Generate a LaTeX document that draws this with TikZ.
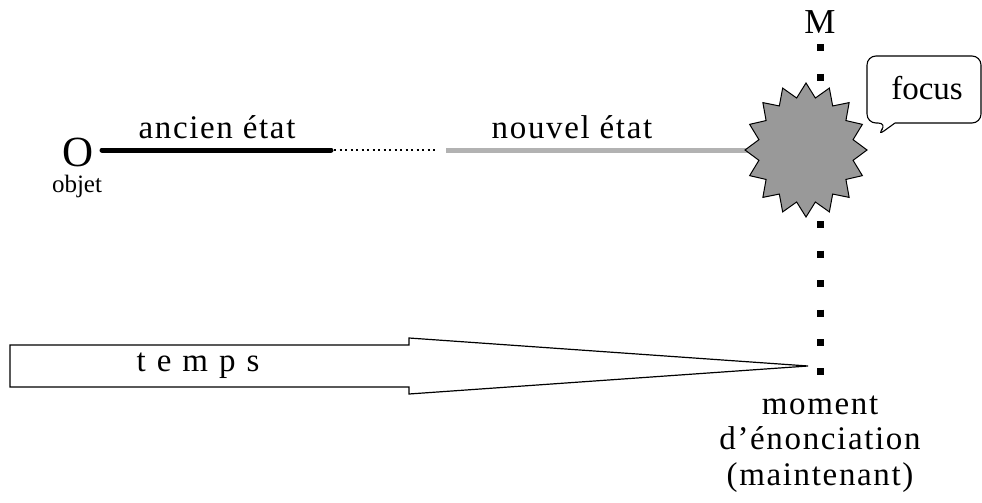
\documentclass[tikz,border=0pt]{standalone}
\usetikzlibrary{calc}
\usepackage{fontspec}
\setmainfont{Liberation Serif}
\newfontfamily\spacedfont[LetterSpace=5]{Liberation Serif}
\begin{document}
\begin{tikzpicture}[x=1pt,y=-1pt,
  txt/.style={inner sep=0pt,font=\fontsize{33}{36}\selectfont},
  spacedtxt/.style={inner sep=0pt,font=\spacedfont\fontsize{33}{35.5}\selectfont},
  oldline/.style={line width=5pt,line cap=round,black},
  newline/.style={line width=5pt,black!30},
  gapline/.style={line width=1.6pt,dash pattern=on 2pt off 3.5pt},
  nowline/.style={line width=7pt,dash pattern=on 7pt off 22.45pt},
  startex/.style={fill=black!40,draw=black,line width=1pt,line join=miter},
  bubble/.style={draw=black,line width=1.1pt,fill=white,rounded corners=9pt},
  timearrow/.style={draw=black,line width=1.2pt,fill=white,line join=miter}]
\useasboundingbox (0,0) rectangle (982,503);
% vertical "now" line
\coordinate (mtop) at (820,44.5);
\coordinate (mbot) at (820,376);
\draw[nowline] (mtop) -- (mbot);
\node[inner sep=0pt,font=\fontsize{35}{35}\selectfont] (M) at (820,22) {M};
% object line
\node[inner sep=0pt,anchor=base,text height=29pt,text depth=0pt,
  font=\fontsize{43}{43}\selectfont] (O) at (78,166) {O};
\node[inner sep=0pt,anchor=base,text height=16pt,text depth=5pt,
  font=\fontsize{25}{25}\selectfont] (objet) at (77,192) {objet};
\coordinate (a1) at (102,150);
\coordinate (a2) at (331,150);
\coordinate (g1) at (334,150);
\coordinate (g2) at (438,150);
\coordinate (n1) at (446,150);
\coordinate (star) at (806,150);
\draw[oldline] (a1) -- (a2);
\draw[gapline] (g1) -- (g2);
\draw[newline] (n1) -- (star);
\node[spacedtxt] (ancien) at (217,127) {ancien état};
\node[spacedtxt] (nouvel) at (572,127) {nouvel état};
% star
\filldraw[startex] ($(star)+(0,-67)$)
  \foreach \i in {1,...,31}{
    -- ($(star)+({(mod(\i,2)==0?61:48)*cos(90+\i*11.25)},{-(mod(\i,2)==0?67:53)*sin(90+\i*11.25)})$)
  } -- cycle;
% bubble
\draw[bubble] (895,123) -- (877,136) -- (887,123)
  -- (867,123) -- (867,56) -- (981,56) -- (981,123) -- (895,123);
\node[txt] (focus) at (927,88) {focus};
% time arrow
\coordinate (tip) at (808,366);
\draw[timearrow] (10,345) -- (409,345) -- (409,338) -- (tip) -- (409,394)
  -- (409,387) -- (10,387) -- cycle;
\node[txt] (temps) at (198,366) {\spaceskip=11pt t e m p s};
% moment label
\node[spacedtxt,align=center] (moment) at (820,444)
  {moment\\d’énonciation\\(maintenant)};
\end{tikzpicture}
\end{document}
